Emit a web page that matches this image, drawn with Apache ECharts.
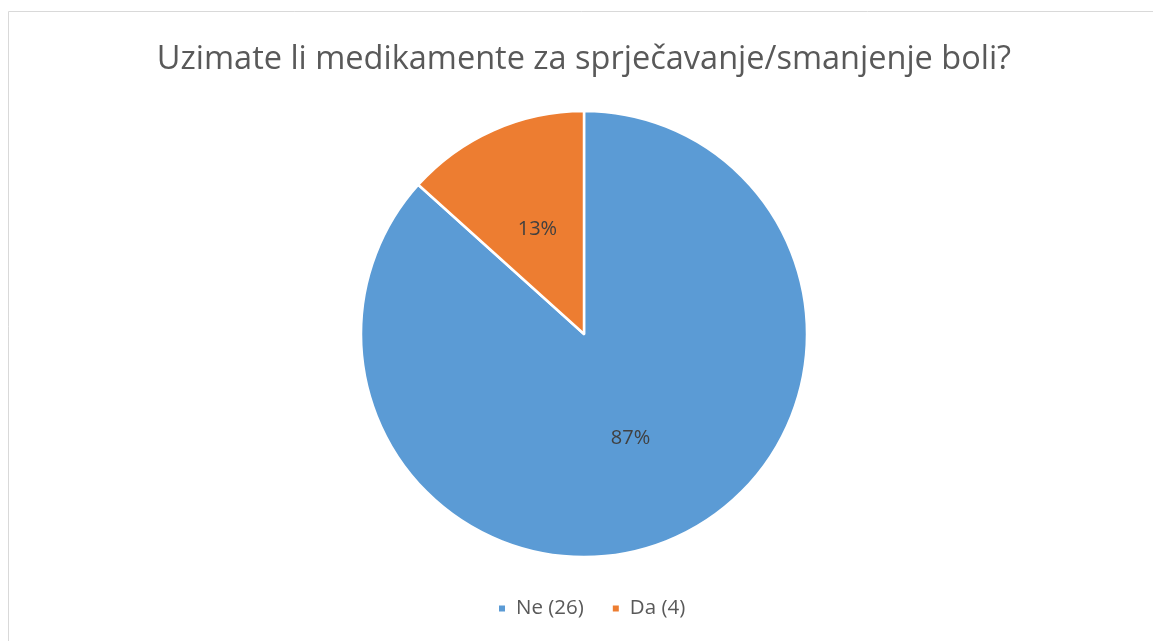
<!DOCTYPE html>
<html>
<head>
<meta charset="utf-8">
<script src="https://cdn.jsdelivr.net/npm/echarts@6/dist/echarts.min.js"></script>
<style>
html, body { margin: 0; padding: 0; background: #fff; }
#chart { width: 1153px; height: 641px; }
</style>
</head>
<body>
<div id="chart"></div>
<script>
var titleText = 'Uzimate li medikamente za sprječavanje/smanjenje boli?';
var categories = ['Ne (26)', 'Da (4)'];
var values = [26, 4];
var colors = ['#5B9BD5', '#ED7D31'];

var chart = echarts.init(document.getElementById('chart'));
var data = categories.map(function (c, i) {
    return { name: c, value: values[i], itemStyle: { color: colors[i] } };
});
chart.setOption({
    animation: false,
    graphic: [{
        type: 'rect',
        shape: { x: 8.5, y: 11.5, width: 1160, height: 640 },
        style: { fill: 'none', stroke: '#d9d9d9', lineWidth: 1 }
    }],
    title: {
        text: titleText,
        left: 579,
        textAlign: 'center',
        top: 38,
        textStyle: { fontFamily: 'Open Sans', fontWeight: 'normal', fontSize: 32.5, color: '#595959' }
    },
    legend: {
        bottom: 17,
        left: 492,
        icon: 'rect',
        itemWidth: 8,
        itemHeight: 8,
        itemGap: 27,
        textStyle: { fontFamily: 'Open Sans', fontSize: 20.5, color: '#595959', padding: [0, 0, 0, 5] },
        data: categories
    },
    series: [{
        type: 'pie',
        center: [584, 334],
        radius: 223,
        startAngle: 90,
        clockwise: true,
        itemStyle: { borderColor: '#fff', borderWidth: 2.5 },
        label: {
            show: true,
            position: 'inside',
            formatter: function (p) { return Math.round(p.percent) + '%'; },
            fontFamily: 'Open Sans',
            fontSize: 20,
            color: '#404040'
        },
        labelLine: { show: false },
        emphasis: { disabled: true },
        data: data
    }]
});
</script>
</body>
</html>
